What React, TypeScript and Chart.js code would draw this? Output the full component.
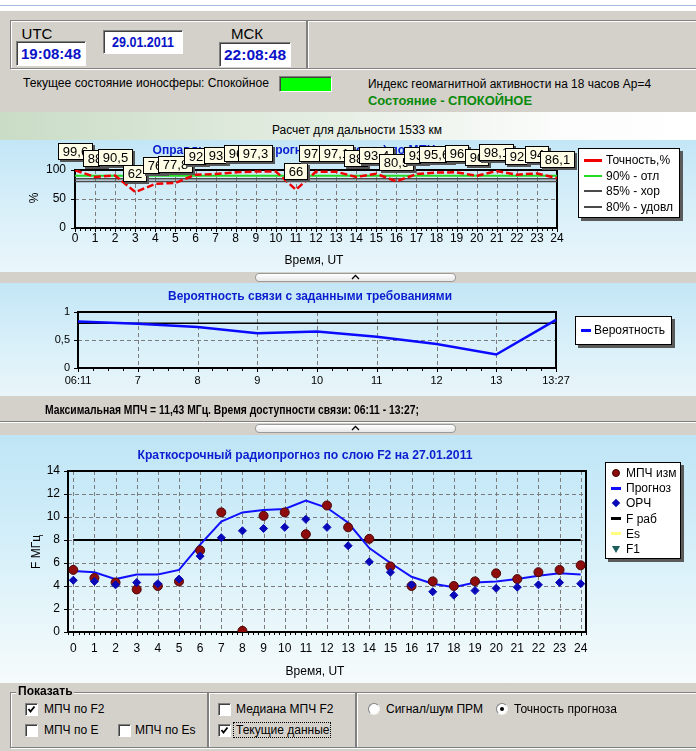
import React, { useEffect, useRef } from "react";
import { Chart, registerables } from "chart.js";

Chart.register(...registerables);

const FONT = "Arial, 'Liberation Sans', Helvetica, sans-serif";

// ---------------- data ----------------
const HOURS = [0, 1, 2, 3, 4, 5, 6, 7, 8, 9, 10, 11, 12, 13, 14, 15, 16, 17, 18, 19, 20, 21, 22, 23, 24];

// Chart 1: forecast accuracy (%)
const ACCURACY = [99.6, 88, 90.5, 62, 76, 77.8, 92, 93, 96, 97.3, 97.3, 66, 97.2, 97.1, 88, 93.4, 80.5, 93, 95.6, 96, 90, 98.1, 92, 94, 86.1];
const ACCURACY_MARKS = ["99,6", "88", "90,5", "62", "76", "77,8", "92", "93", "96", "97,3", null, "66", "97,2", "97,1", "88", "93,4", "80,5", "93", "95,6", "96", "90", "98,1", "92", "94", "86,1"];
const ACC_THRESHOLDS = [90, 85, 80];
const ACC_NAMES = ["Точность,%", "90% - отл", "85% - хор", "80% - удовл"];
const ACC_COLORS = ["#f00000", "#22dd22", "#4a4a4a", "#4a4a4a"];
const ACC_Y_TICKS = [0, 50, 100];

// Chart 2: link probability
const PROB_TIMES = ["06:11", "7", "8", "9", "10", "11", "12", "13", "13:27"];
const PROB_VALUES = [0.83, 0.79, 0.73, 0.62, 0.65, 0.56, 0.43, 0.24, 0.86];
const PROB_REQUIRED = 0.8;
const PROB_Y_TICKS = [0, 0.5, 1];

// Chart 3: F2 short-term forecast (MHz)
const MUF_MEASURED = [5.4, 4.7, 4.3, 3.7, 4.0, 4.4, 7.1, 10.4, 0.1, 10.1, 10.4, 8.5, 11.0, 9.1, 8.1, 5.7, 4.0, 4.4, 4.0, 4.4, 5.1, 4.6, 5.2, 5.4, 5.8];
const MUF_FORECAST = [5.3, 5.2, 4.6, 5.0, 5.0, 5.4, 7.6, 9.6, 10.4, 10.6, 10.7, 11.43, 10.8, 9.5, 7.3, 6.0, 4.8, 4.2, 3.9, 4.3, 4.4, 4.6, 4.9, 5.1, 5.0];
const ORF_VALUES = [4.5, 4.4, 4.1, 4.3, 4.2, 4.6, 6.6, 8.2, 8.8, 9.0, 9.1, 9.8, 9.1, 7.5, 6.1, 5.2, 4.1, 3.5, 3.2, 3.6, 3.8, 3.9, 4.1, 4.3, 4.2];
const F_WORK = 8;
const F2_Y_TICKS = [0, 2, 4, 6, 8, 10, 12, 14];

// ---------------- helpers ----------------
let measureCtx: CanvasRenderingContext2D | null = null;
function textWidth(text: string, font: string) {
  if (!measureCtx) measureCtx = document.createElement("canvas").getContext("2d");
  measureCtx!.font = font;
  return measureCtx!.measureText(text).width;
}

function Txt({ x, y, text, size = 12, bold = false, color = "#000", width, align = "left", style }: any) {
  const font = `${bold ? "bold " : ""}${size}px ${FONT}`;
  const w = textWidth(text, font);
  const sx = width ? width / w : 1;
  const realW = width ?? w;
  const left = align === "center" ? x - realW / 2 : x;
  return (
    <div
      style={{
        position: "absolute",
        left,
        top: y - (size + 2) / 2,
        font,
        lineHeight: `${size + 2}px`,
        color,
        whiteSpace: "nowrap",
        transform: `scaleX(${sx})`,
        transformOrigin: "0 0",
        ...style,
      }}
    >
      {text}
    </div>
  );
}

function Frame({ x, y, w, h }: any) {
  return (
    <div
      style={{
        position: "absolute",
        left: x,
        top: y,
        width: w,
        height: h,
        boxSizing: "border-box",
        border: "1px solid #808080",
        boxShadow: "inset 1px 1px 0 #fff, 1px 1px 0 #fff",
      }}
    />
  );
}

function Sunken({ x, y, w, h, children, bg = "#fff" }: any) {
  return (
    <div
      style={{
        position: "absolute",
        left: x,
        top: y,
        width: w,
        height: h,
        boxSizing: "border-box",
        background: bg,
        borderTop: "1px solid #808080",
        borderLeft: "1px solid #808080",
        borderRight: "1px solid #fff",
        borderBottom: "1px solid #fff",
        boxShadow: "inset 1px 1px 0 #404040",
      }}
    >
      {children}
    </div>
  );
}

function CheckBox({ x, y, checked }: any) {
  return (
    <Sunken x={x} y={y} w={13} h={13}>
      {checked && (
        <svg width="11" height="11" style={{ position: "absolute", left: 0, top: 0 }}>
          <path d="M2.5 5 L4.5 7.5 L8.5 2.5" stroke="#000" strokeWidth="1.8" fill="none" />
        </svg>
      )}
    </Sunken>
  );
}

function Radio({ x, y, selected }: any) {
  return (
    <div
      style={{
        position: "absolute",
        left: x,
        top: y,
        width: 12,
        height: 12,
        borderRadius: "50%",
        background: "#fff",
        borderTop: "1px solid #808080",
        borderLeft: "1px solid #808080",
        borderRight: "1px solid #f0f0f0",
        borderBottom: "1px solid #f0f0f0",
        boxSizing: "border-box",
      }}
    >
      {selected && (
        <div style={{ position: "absolute", left: 3, top: 3, width: 4, height: 4, borderRadius: "50%", background: "#000" }} />
      )}
    </div>
  );
}

function Splitter({ y }: any) {
  return (
    <div
      style={{
        position: "absolute",
        left: 255,
        top: y,
        width: 201,
        height: 9,
        boxSizing: "border-box",
        background: "linear-gradient(#ffffff, #e8e8e8)",
        border: "1px solid #9a9a9a",
        borderRadius: 4,
      }}
    >
      <svg width="201" height="9" style={{ position: "absolute", left: -1, top: -1 }}>
        <path d="M97 6 L100.5 2.5 L104 6" stroke="#000" strokeWidth="1.3" fill="none" />
      </svg>
    </div>
  );
}

function Legend({ x, y, w, h, items, rowH, firstY, symX, textX }: any) {
  return (
    <div
      style={{
        position: "absolute",
        left: x,
        top: y,
        width: w,
        height: h,
        boxSizing: "border-box",
        background: "#fff",
        border: "1px solid #000",
        boxShadow: "3px 3px 0 #5a5a5a",
      }}
    >
      {items.map((it: any, i: number) => {
        const cy = firstY + i * rowH;
        let sym: any = null;
        if (it.kind === "line") {
          sym = (
            <div
              style={{
                position: "absolute",
                left: symX - it.len / 2,
                top: cy - it.lw / 2,
                width: it.len,
                height: it.lw,
                background: it.color,
              }}
            />
          );
        } else if (it.kind === "circle") {
          sym = (
            <div
              style={{
                position: "absolute",
                left: symX - 4,
                top: cy - 4,
                width: 8,
                height: 8,
                borderRadius: "50%",
                background: it.color,
                boxSizing: "border-box",
                border: "1px solid #400000",
              }}
            />
          );
        } else if (it.kind === "diamond") {
          sym = (
            <div
              style={{
                position: "absolute",
                left: symX - 3,
                top: cy - 3,
                width: 6,
                height: 6,
                background: it.color,
                transform: "rotate(45deg)",
              }}
            />
          );
        } else if (it.kind === "triangle") {
          sym = (
            <svg width="10" height="10" style={{ position: "absolute", left: symX - 5, top: cy - 4 }}>
              <path d="M1 1 L9 1 L5 8 Z" fill={it.color} />
            </svg>
          );
        }
        return (
          <React.Fragment key={i}>
            {sym}
            <Txt x={textX} y={cy} text={it.name} size={12} />
          </React.Fragment>
        );
      })}
    </div>
  );
}

// ---------------- chart plugins ----------------
function textPlugin(items: any[]) {
  return {
    id: "panelTexts",
    beforeDatasetsDraw(chart: any) {
      const ctx = chart.ctx;
      for (const it of items) {
        ctx.save();
        ctx.font = `${it.bold ? "bold " : ""}${it.size || 12}px ${FONT}`;
        ctx.fillStyle = it.color || "#000";
        ctx.textAlign = "center";
        ctx.textBaseline = "middle";
        ctx.translate(it.x, it.y);
        if (it.rotate) ctx.rotate(it.rotate);
        if (it.width) {
          const w = ctx.measureText(it.text).width;
          ctx.scale(it.width / w, 1);
        }
        ctx.fillText(it.text, 0, 0);
        ctx.restore();
      }
    },
  };
}

function gridFramePlugin(cfg: any) {
  return {
    id: "gridFrame",
    beforeDatasetsDraw(chart: any) {
      const { ctx, chartArea: a } = chart;
      const xs = chart.scales.x;
      const ys = chart.scales.y;
      ctx.save();
      ctx.strokeStyle = "#7c7c7c";
      ctx.lineWidth = 1;
      ctx.setLineDash([4, 3]);
      for (const v of cfg.xGrid) {
        const px = Math.round(xs.getPixelForValue(v)) + 0.5;
        ctx.beginPath();
        ctx.moveTo(px, a.top);
        ctx.lineTo(px, a.bottom);
        ctx.stroke();
      }
      for (const v of cfg.yGrid) {
        const py = Math.round(ys.getPixelForValue(v)) + 0.5;
        ctx.beginPath();
        ctx.moveTo(a.left, py);
        ctx.lineTo(a.right, py);
        ctx.stroke();
      }
      ctx.setLineDash([]);
      ctx.strokeStyle = "#000";
      if (cfg.minorX) {
        const [from, to, step] = cfg.minorX;
        for (let v = from; v <= to + 1e-9; v += step) {
          const px = Math.round(xs.getPixelForValue(v)) + 0.5;
          const major = Math.abs(v - Math.round(v)) < 1e-6;
          ctx.beginPath();
          ctx.moveTo(px, a.bottom);
          ctx.lineTo(px, a.bottom + (major ? 4 : 3));
          ctx.stroke();
        }
      }
      if (cfg.yTicks) {
        for (const v of cfg.yTicks) {
          const py = Math.round(ys.getPixelForValue(v)) + 0.5;
          ctx.beginPath();
          ctx.moveTo(a.left - 4, py);
          ctx.lineTo(a.left, py);
          ctx.stroke();
        }
      }
      ctx.lineWidth = 2;
      ctx.strokeRect(a.left, a.top, a.right - a.left, a.bottom - a.top);
      ctx.restore();
    },
  };
}

const accuracyMarksPlugin = {
  id: "accuracyMarks",
  afterDatasetsDraw(chart: any) {
    const ctx = chart.ctx;
    const meta = chart.getDatasetMeta(0);
    ctx.save();
    ctx.font = `13px ${FONT}`;
    ctx.textAlign = "center";
    ctx.textBaseline = "middle";
    ACCURACY_MARKS.forEach((t, i) => {
      if (!t) return;
      const pt = meta.data[i];
      const w = Math.round(ctx.measureText(t).width + 10);
      const h = 17;
      const left = Math.round(pt.x - w / 2);
      const top = Math.round(pt.y - 10 - h);
      ctx.fillStyle = "#555";
      ctx.fillRect(left + 2, top + 2, w, h);
      ctx.fillStyle = "#fffde6";
      ctx.fillRect(left, top, w, h);
      ctx.strokeStyle = "#000";
      ctx.lineWidth = 1;
      ctx.strokeRect(left + 0.5, top + 0.5, w - 1, h - 1);
      ctx.fillStyle = "#000";
      ctx.fillText(t, left + w / 2, top + h / 2 + 1);
    });
    ctx.restore();
  },
};

const tickFont = (size: number) => ({ family: FONT, size });
const noGrid = { display: false, drawTicks: false };
const noBorder = { display: false };

// ---------------- chart configs ----------------
function accuracyConfig() {
  const W = 696, H = 134;
  const area = { left: 75, right: 557, top: 30, bottom: 88 };
  return {
    type: "line",
    data: {
      datasets: [
        {
          label: ACC_NAMES[0],
          data: HOURS.map((h, i) => ({ x: h, y: ACCURACY[i] })),
          borderColor: ACC_COLORS[0],
          borderWidth: 2.5,
          borderDash: [7, 3],
          pointRadius: 0,
          order: 0,
        },
        ...ACC_THRESHOLDS.map((v, k) => ({
          label: ACC_NAMES[k + 1],
          data: [
            { x: HOURS[0], y: v },
            { x: HOURS[HOURS.length - 1], y: v },
          ],
          borderColor: ACC_COLORS[k + 1],
          borderWidth: k === 0 ? 2 : 1.5,
          pointRadius: 0,
          order: k + 1,
        })),
      ],
    },
    options: {
      responsive: false,
      animation: false,
      devicePixelRatio: 1,
      layout: { padding: { left: area.left - 45, right: W - area.right, top: area.top, bottom: 0 } },
      plugins: { legend: { display: false }, tooltip: { enabled: false } },
      scales: {
        x: {
          type: "linear",
          min: 0,
          max: 24,
          afterBuildTicks: (s: any) => {
            s.ticks = HOURS.map((v) => ({ value: v }));
          },
          afterFit: (s: any) => {
            s.height = H - area.bottom;
          },
          grid: noGrid,
          border: noBorder,
          ticks: { padding: 3, color: "#000", font: tickFont(12), maxRotation: 0, autoSkip: false },
        },
        y: {
          min: 0,
          max: 100,
          afterBuildTicks: (s: any) => {
            s.ticks = ACC_Y_TICKS.map((v) => ({ value: v }));
          },
          afterFit: (s: any) => {
            s.width = 45;
          },
          grid: noGrid,
          border: noBorder,
          ticks: { padding: 9, color: "#000", font: tickFont(12) },
        },
      },
    },
    plugins: [
      gridFramePlugin({ xGrid: HOURS.slice(1, -1), yGrid: [50], minorX: [0, 24, 0.25], yTicks: ACC_Y_TICKS }),
      textPlugin([
        { text: "Оправдываемость прогноза (точность) по МПЧ", x: 294, y: 11, bold: true, color: "#0a1ed0" },
        { text: "%", x: 35, y: 58, rotate: -Math.PI / 2 },
        { text: "Время, UT", x: 314, y: 121 },
      ]),
      accuracyMarksPlugin,
    ],
  };
}

function probabilityConfig() {
  const W = 696, H = 113;
  const area = { left: 78, right: 556, top: 30, bottom: 86 };
  return {
    type: "line",
    data: {
      labels: PROB_TIMES,
      datasets: [
        {
          label: "Вероятность",
          data: PROB_VALUES,
          borderColor: "#0a0aff",
          borderWidth: 2.5,
          pointRadius: 0,
          order: 0,
        },
        {
          label: "required",
          data: [
            { x: PROB_TIMES[0], y: PROB_REQUIRED },
            { x: PROB_TIMES[PROB_TIMES.length - 1], y: PROB_REQUIRED },
          ],
          borderColor: "#000",
          borderWidth: 1.5,
          pointRadius: 0,
          order: 1,
        },
      ],
    },
    options: {
      responsive: false,
      animation: false,
      devicePixelRatio: 1,
      layout: { padding: { left: area.left - 45, right: W - area.right, top: area.top, bottom: 0 } },
      plugins: { legend: { display: false }, tooltip: { enabled: false } },
      scales: {
        x: {
          type: "category",
          offset: false,
          afterFit: (s: any) => {
            s.height = H - area.bottom;
          },
          grid: noGrid,
          border: noBorder,
          ticks: { padding: 6, color: "#000", font: tickFont(11), maxRotation: 0, autoSkip: false },
        },
        y: {
          min: 0,
          max: 1,
          afterBuildTicks: (s: any) => {
            s.ticks = PROB_Y_TICKS.map((v) => ({ value: v }));
          },
          afterFit: (s: any) => {
            s.width = 45;
          },
          grid: noGrid,
          border: noBorder,
          ticks: {
            padding: 8,
            color: "#000",
            font: tickFont(11),
            callback: (v: any) => String(v).replace(".", ","),
          },
        },
      },
    },
    plugins: [
      gridFramePlugin({ xGrid: [1, 2, 3, 4, 5, 6, 7], yGrid: [0.5], minorX: [0, 8, 0.25], yTicks: PROB_Y_TICKS }),
      textPlugin([
        { text: "Вероятность связи с заданными требованиями", x: 310, y: 15, bold: true, color: "#0a1ed0", width: 284 },
      ]),
    ],
  };
}

function f2Config() {
  const W = 696, H = 246;
  const area = { left: 68, right: 586, top: 35, bottom: 196 };
  return {
    type: "line",
    data: {
      datasets: [
        {
          label: "МПЧ изм",
          data: HOURS.map((h, i) => ({ x: h, y: MUF_MEASURED[i] })),
          showLine: false,
          pointStyle: "circle",
          pointRadius: 4.5,
          backgroundColor: "#8e0c0c",
          borderColor: "#4a0505",
          borderWidth: 1,
          order: 2,
        },
        {
          label: "Прогноз",
          data: HOURS.map((h, i) => ({ x: h, y: MUF_FORECAST[i] })),
          borderColor: "#1010ff",
          borderWidth: 2,
          pointRadius: 0,
          order: 3,
        },
        {
          label: "ОРЧ",
          data: HOURS.map((h, i) => ({ x: h, y: ORF_VALUES[i] })),
          showLine: false,
          pointStyle: "rectRot",
          pointRadius: 4,
          backgroundColor: "#0808b8",
          borderColor: "#0808b8",
          borderWidth: 1,
          order: 1,
        },
        {
          label: "F раб",
          data: [
            { x: HOURS[0], y: F_WORK },
            { x: HOURS[HOURS.length - 1], y: F_WORK },
          ],
          borderColor: "#000",
          borderWidth: 2,
          pointRadius: 0,
          order: 4,
        },
      ],
    },
    options: {
      responsive: false,
      animation: false,
      devicePixelRatio: 1,
      layout: { padding: { left: area.left - 45, right: W - area.right, top: area.top, bottom: 0 } },
      plugins: { legend: { display: false }, tooltip: { enabled: false } },
      scales: {
        x: {
          type: "linear",
          min: -0.25,
          max: 24.25,
          afterBuildTicks: (s: any) => {
            s.ticks = HOURS.map((v) => ({ value: v }));
          },
          afterFit: (s: any) => {
            s.height = H - area.bottom;
          },
          grid: noGrid,
          border: noBorder,
          ticks: { padding: 9, color: "#000", font: tickFont(12), maxRotation: 0, autoSkip: false },
        },
        y: {
          min: 0,
          max: 14,
          afterBuildTicks: (s: any) => {
            s.ticks = F2_Y_TICKS.map((v) => ({ value: v }));
          },
          afterFit: (s: any) => {
            s.width = 45;
          },
          grid: noGrid,
          border: noBorder,
          ticks: { padding: 8, color: "#000", font: tickFont(12) },
        },
      },
    },
    plugins: [
      gridFramePlugin({ xGrid: HOURS, yGrid: [2, 4, 6, 8, 10, 12], minorX: [-0.25, 24.25, 0.25], yTicks: F2_Y_TICKS }),
      textPlugin([
        { text: "Краткосрочный радиопрогноз по слою F2 на 27.01.2011", x: 305, y: 20, bold: true, color: "#0a1ed0", width: 335 },
        { text: "F МГц", x: 37, y: 116, rotate: -Math.PI / 2 },
        { text: "Время, UT", x: 315, y: 236 },
      ]),
    ],
  };
}

function ChartCanvas({ left, top, width, height, build }: any) {
  const ref = useRef<HTMLCanvasElement | null>(null);
  useEffect(() => {
    const chart = new Chart(ref.current as any, build());
    return () => chart.destroy();
  }, []);
  return <canvas ref={ref} width={width} height={height} style={{ position: "absolute", left, top, width, height }} />;
}

// ---------------- legends ----------------
const LEGEND1 = ACC_NAMES.map((n, i) => ({ name: n, kind: "line", color: ACC_COLORS[i], len: 18, lw: i === 0 ? 3 : 2 }));
const LEGEND2 = [{ name: "Вероятность", kind: "line", color: "#0a0aff", len: 10, lw: 3 }];
const LEGEND3 = [
  { name: "МПЧ изм", kind: "circle", color: "#8e0c0c" },
  { name: "Прогноз", kind: "line", color: "#1010ff", len: 10, lw: 3 },
  { name: "ОРЧ", kind: "diamond", color: "#0808b8" },
  { name: "F раб", kind: "line", color: "#000", len: 10, lw: 3 },
  { name: "Es", kind: "line", color: "#ffff80", len: 10, lw: 3 },
  { name: "F1", kind: "triangle", color: "#1c5e5e" },
];

const GRAY = "#d4d1cb";
const BLUE_TIME = "#0a12c8";

export default function App() {
  useEffect(() => {
    document.body.style.margin = "0";
  }, []);
  return (
    <div
      style={{
        position: "absolute",
        left: 0,
        top: 0,
        width: 696,
        height: 751,
        overflow: "hidden",
        background: GRAY,
        fontFamily: FONT,
      }}
    >
      {/* top strip */}
      <div style={{ position: "absolute", left: 0, top: 0, width: 696, height: 11, background: "#fff" }} />
      <div style={{ position: "absolute", left: 0, top: 5, width: 696, height: 1, background: "#a6bcdc" }} />

      {/* header */}
      <Frame x={10} y={20} w={297} h={49} />
      <Frame x={307} y={20} w={395} h={49} />
      <Txt x={37} y={33} text="UTC" size={15} align="center" />
      <Sunken x={16} y={41} w={70} h={25} />
      <Txt x={51} y={54} text="19:08:48" size={14} bold color={BLUE_TIME} align="center" width={60} />
      <Sunken x={103} y={30} w={80} h={24} />
      <Txt x={143} y={42} text="29.01.2011" size={14} bold color={BLUE_TIME} align="center" width={62} />
      <Txt x={247} y={33} text="МСК" size={15} align="center" />
      <Sunken x={219} y={42} w={72} h={25} />
      <Txt x={255} y={55} text="22:08:48" size={14} bold color={BLUE_TIME} align="center" width={62} />

      <Txt x={23} y={83} text="Текущее состояние ионосферы: Спокойное" size={12} width={246} />
      <Sunken x={279} y={76} w={53} h={16} bg="#00ff00" />
      <Txt x={368} y={84} text="Индекс геомагнитной активности на 18 часов Ар=4" size={12} width={283} />
      <Txt x={368} y={101} text="Состояние - СПОКОЙНОЕ" size={12} bold color="#0a8a0a" width={164} />

      {/* distance band */}
      <div
        style={{
          position: "absolute",
          left: 0,
          top: 112,
          width: 696,
          height: 28,
          background: "linear-gradient(to right, #c9dcc5 0%, #e4ede2 45%, #fbfcfb 80%, #ffffff 100%)",
        }}
      />
      <Txt x={357} y={130} text="Расчет для дальности 1533 км" size={12} align="center" width={170} />

      {/* chart 1 panel */}
      <div
        style={{
          position: "absolute",
          left: 0,
          top: 140,
          width: 696,
          height: 132,
          background: "linear-gradient(to bottom, #c3e6f6 0%, #d7eff9 50%, #eaf6fa 100%)",
        }}
      />
      <ChartCanvas left={0} top={140} width={696} height={134} build={accuracyConfig} />
      <Legend x={578} y={148} w={102} h={70} items={LEGEND1} rowH={15.5} firstY={11} symX={14} textX={27} />

      <Splitter y={273} />

      {/* chart 2 panel */}
      <div
        style={{
          position: "absolute",
          left: 0,
          top: 283,
          width: 696,
          height: 113,
          background: "linear-gradient(to bottom, #c3e6f6 0%, #d9f0f9 55%, #e9f5f9 100%)",
        }}
      />
      <ChartCanvas left={0} top={282} width={696} height={113} build={probabilityConfig} />
      <Legend x={575} y={316} w={97} h={29} items={LEGEND2} rowH={15} firstY={13} symX={10} textX={18} />

      <Txt
        x={45}
        y={409}
        text="Максимальная МПЧ = 11,43 МГц. Время доступности связи: 06:11 - 13:27;"
        size={13}
        bold
        width={374}
      />
      <div style={{ position: "absolute", left: 0, top: 421, width: 696, height: 1, background: "#808080" }} />
      <div style={{ position: "absolute", left: 0, top: 422, width: 696, height: 1, background: "#fff" }} />
      <Splitter y={424} />

      {/* chart 3 panel */}
      <div
        style={{
          position: "absolute",
          left: 0,
          top: 435,
          width: 696,
          height: 248,
          background: "linear-gradient(to bottom, #bfe5f6 0%, #d2eef9 40%, #e8f6fa 75%, #f6fbfc 100%)",
        }}
      />
      <ChartCanvas left={0} top={436} width={696} height={246} build={f2Config} />
      <Legend x={605} y={462} w={76} h={97} items={LEGEND3} rowH={15.2} firstY={10} symX={10} textX={20} />

      {/* bottom controls */}
      <Frame x={10} y={692} w={198} h={56} />
      <Frame x={208} y={692} w={148} h={56} />
      <Frame x={356} y={692} w={345} h={56} />
      <div style={{ position: "absolute", left: 16, top: 685, width: 58, height: 13, background: GRAY }} />
      <Txt x={18} y={691} text="Показать" size={12} bold />
      <CheckBox x={25} y={703} checked />
      <Txt x={44} y={709} text="МПЧ по F2" size={12} />
      <CheckBox x={25} y={724} />
      <Txt x={44} y={730} text="МПЧ по E" size={12} />
      <CheckBox x={118} y={724} />
      <Txt x={135} y={730} text="МПЧ по Es" size={12} />
      <CheckBox x={218} y={703} />
      <Txt x={236} y={709} text="Медиана МПЧ F2" size={12} />
      <CheckBox x={218} y={724} checked />
      <div
        style={{ position: "absolute", left: 233, top: 722, width: 98, height: 16, boxSizing: "border-box", border: "1px dotted #000" }}
      />
      <Txt x={236} y={730} text="Текущие данные" size={12} />
      <Radio x={368} y={703} />
      <Txt x={386} y={709} text="Сигнал/шум ПРМ" size={12} />
      <Radio x={496} y={703} selected />
      <Txt x={514} y={709} text="Точность прогноза" size={12} />
    </div>
  );
}
